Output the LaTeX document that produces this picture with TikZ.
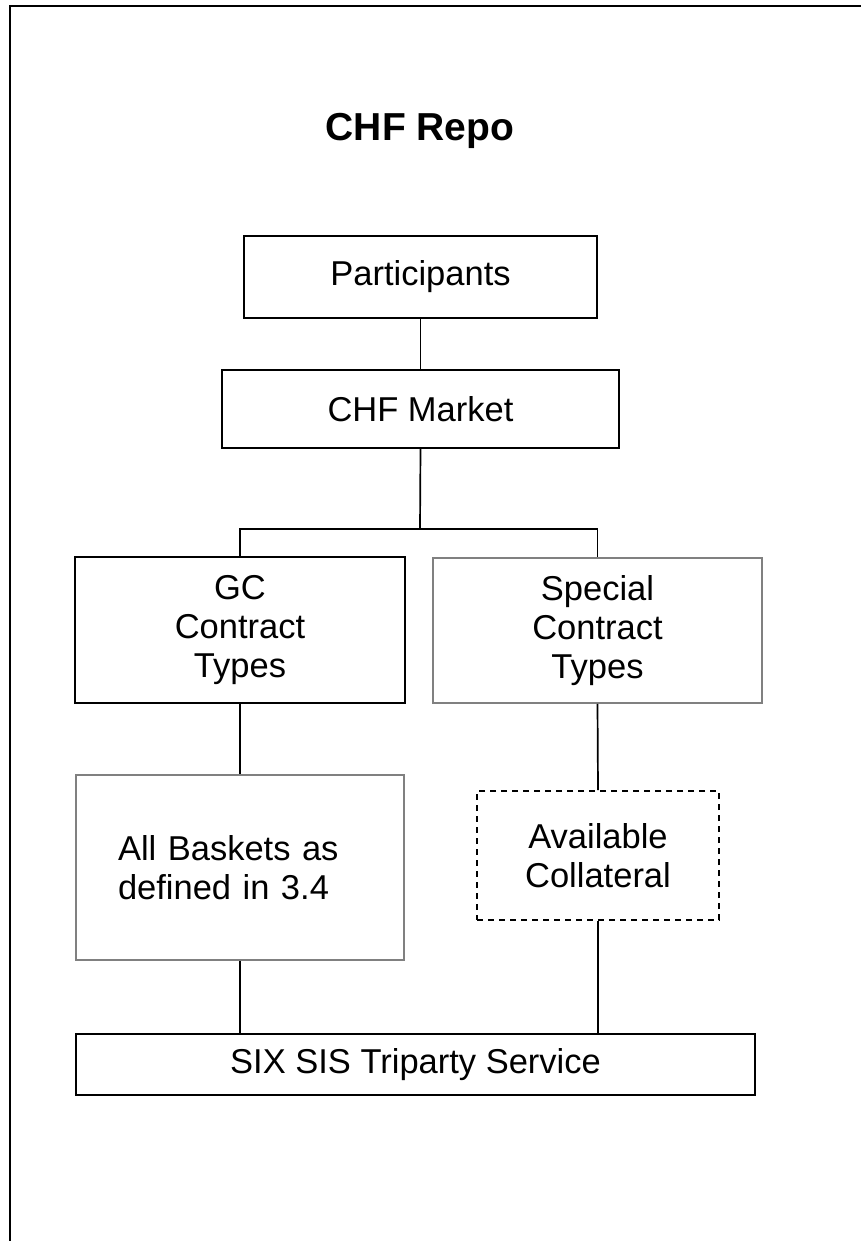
\documentclass[tikz,border=0pt]{standalone}
\usepackage{fontspec}
\setmainfont{Liberation Sans}
\begin{document}
\begin{tikzpicture}[x=1pt,y=-1pt,
  box/.style={draw=black,line width=1.7pt,rectangle,align=center,inner sep=0pt,
    font=\fontsize{34.5}{39}\selectfont},
  graybox/.style={box,draw=black!50},
  conn/.style={line width=1.7pt,draw=black}]
\useasboundingbox (0,0) rectangle (861,1241);
\draw[line width=2pt] (10,1241) -- (10,6) -- (861,6);
\node[font=\fontsize{39}{44}\bfseries\selectfont,anchor=base] (title) at (420,141) {CHF Repo};
\node[box,minimum width=353pt,minimum height=82pt] (part) at (420.5,277) {Participants};
\node[box,minimum width=397pt,minimum height=78pt] (market) at (420.5,409) {CHF Market};
\node[box,minimum width=330pt,minimum height=146pt] (gc) at (240,630) {GC\\Contract\\Types};
\node[graybox,minimum width=329pt,minimum height=145pt] (special) at (597.5,630.5) {Special\\Contract\\Types};
\node[graybox,minimum width=328pt,minimum height=185pt,align=left,text width=244pt,inner xsep=42pt] (baskets) at (240,867.5) {All Baskets as\\defined in 3.4};
\node[box,dashed,dash pattern=on 6pt off 5pt,minimum width=242pt,minimum height=129pt] (avail) at (598,855.5) {Available\\Collateral};
\node[box,minimum width=679pt,minimum height=61pt] (six) at (415.5,1064.5) {SIX SIS Triparty Service};
\coordinate (j) at (420,529);
\draw[conn] (part.south -| market.north) -- (market.north);
\draw[conn] (market.south) -- (j);
\draw[conn] (gc.north) |- (j) -| (special.north);
\draw[conn] (gc.south) -- (baskets.north);
\draw[conn] (special.south) -- (avail.north);
\draw[conn] (baskets.south) -- (baskets.south |- six.north);
\draw[conn] (avail.south) -- (avail.south |- six.north);
\end{tikzpicture}
\end{document}
